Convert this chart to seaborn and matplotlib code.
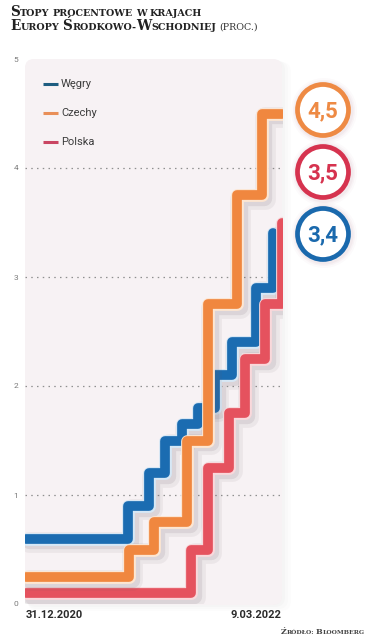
"""Stopy procentowe w krajach Europy Środkowo-Wschodniej (proc.)."""

import matplotlib

matplotlib.use("Agg")
import matplotlib.patheffects as pe
import matplotlib.pyplot as plt
import pandas as pd
import seaborn as sns
from matplotlib.patches import Circle, FancyBboxPatch

KRAJE = ["Węgry", "Czechy", "Polska"]

DATY_WEGRY = ["2020-12-31", "2021-06-22", "2021-07-27", "2021-08-24", "2021-09-21",
              "2021-10-19", "2021-11-16", "2021-12-14", "2022-01-25", "2022-02-22"]
STOPY_WEGRY = [0.6, 0.9, 1.2, 1.5, 1.65, 1.8, 2.1, 2.4, 2.9, 3.4]

DATY_CZECHY = ["2020-12-31", "2021-06-23", "2021-08-05", "2021-09-30", "2021-11-04",
               "2021-12-23", "2022-02-03", "2022-03-09"]
STOPY_CZECHY = [0.25, 0.5, 0.75, 1.5, 2.75, 3.75, 4.5, 4.5]

DATY_POLSKA = ["2020-12-31", "2021-10-07", "2021-11-04", "2021-12-09", "2022-01-05",
               "2022-02-09", "2022-03-09"]
STOPY_POLSKA = [0.1, 0.5, 1.25, 1.75, 2.25, 2.75, 3.5]

ETYKIETY_X = ["31.12.2020", "9.03.2022"]
TYTUL = ["Stopy procentowe w krajach", "Europy Środkowo-Wschodniej"]
ZRODLO = "Źródło: Bloomberg"

KOLORY = {"Węgry": "#1b6cb1", "Czechy": "#f0873f", "Polska": "#e5525e"}
OBRYSY = {"Węgry": "#d6e8f6", "Czechy": "#fde6d2", "Polska": "#f9d8db"}
KOLORY_LEGENDY = {"Węgry": "#1e5d80", "Czechy": "#e98f58", "Polska": "#c94562"}
KOLORY_KOLEK = {"Węgry": "#1a69ad", "Czechy": "#ee8a44", "Polska": "#d6334f"}

WASKI = ["Roboto", "DejaVu Sans"]
SZERYF = ["DejaVu Serif"]

df = pd.concat(
    [
        pd.DataFrame({"data": pd.to_datetime(DATY_WEGRY), "stopa": STOPY_WEGRY, "kraj": "Węgry"}),
        pd.DataFrame({"data": pd.to_datetime(DATY_CZECHY), "stopa": STOPY_CZECHY, "kraj": "Czechy"}),
        pd.DataFrame({"data": pd.to_datetime(DATY_POLSKA), "stopa": STOPY_POLSKA, "kraj": "Polska"}),
    ],
    ignore_index=True,
)

sns.set_theme(style="white")
plt.rcParams["font.family"] = WASKI

fig = plt.figure(figsize=(3.77, 6.4), dpi=100)
fig.patch.set_facecolor("white")

# tło w pikselach
tlo = fig.add_axes([0, 0, 1, 1], zorder=0)
tlo.set_xlim(0, 377)
tlo.set_ylim(640, 0)
tlo.axis("off")
for i, a in enumerate([0.035, 0.03, 0.025, 0.02]):
    tlo.add_patch(FancyBboxPatch((25 + i, 59 + i), 257 + 2 * i, 546 + i,
                                 boxstyle="round,pad=0,rounding_size=10",
                                 fc="#8a8088", ec="none", alpha=a))
tlo.add_patch(FancyBboxPatch((25, 59), 257, 546, boxstyle="round,pad=0,rounding_size=9",
                             fc="#f7f2f4", ec="none"))

ax = fig.add_axes([25 / 377, 36 / 640, 258 / 377, 545 / 640], zorder=1)
ax.patch.set_alpha(0)
kolejnosc = ["Węgry", "Polska", "Czechy"]
sns.lineplot(data=df, x="data", y="stopa", hue="kraj", hue_order=kolejnosc, palette=KOLORY,
             drawstyle="steps-post", estimator=None, linewidth=7, legend=False, ax=ax,
             solid_capstyle="round", solid_joinstyle="round")
for linia, kraj in zip(ax.lines, kolejnosc):
    linia.set_path_effects([
        pe.SimpleLineShadow(offset=(2.5, -2.5), shadow_color="#6a5a65", alpha=0.08, linewidth=15),
        pe.SimpleLineShadow(offset=(2, -2), shadow_color="#6a5a65", alpha=0.12, linewidth=11),
        pe.Stroke(linewidth=9.2, foreground=OBRYSY[kraj]),
        pe.Normal(),
    ])

for v in [1, 2, 3, 4]:
    ax.axhline(v, color="#8f8f8f", lw=0.9, ls=(0, (1.2, 3.4)), zorder=0)

start = pd.Timestamp(DATY_WEGRY[0])
koniec = pd.Timestamp(DATY_POLSKA[-1])
ax.set_xlim(start - pd.Timedelta(days=1.5), koniec + pd.Timedelta(days=2))
ax.set_ylim(0, 5)
ax.set_yticks([0, 1, 2, 3, 4, 5])
ax.set_yticklabels(["0", "1", "2", "3", "4", "5"], fontsize=6, color="#7a7a7a")
ax.set_xticks([start, koniec])
ax.set_xticklabels(ETYKIETY_X, fontsize=8, color="#2a2a2a", fontweight="bold")
ax.get_xticklabels()[0].set_ha("left")
ax.get_xticklabels()[1].set_ha("right")
ax.tick_params(axis="y", length=0, pad=5)
ax.tick_params(axis="x", length=0, pad=4)
ax.set_xlabel("")
ax.set_ylabel("")
sns.despine(ax=ax, left=True, bottom=True)

# warstwa wierzchnia
wierzch = fig.add_axes([0, 0, 1, 1], zorder=2)
wierzch.set_xlim(0, 377)
wierzch.set_ylim(640, 0)
wierzch.axis("off")

# legenda
for i, kraj in enumerate(KRAJE):
    y = 84 + 29 * i
    wierzch.plot([43, 58], [y, y], color=KOLORY_LEGENDY[kraj], lw=2.2, solid_capstyle="butt")
    wierzch.text(61, y, kraj, fontsize=8, color="#3c3c3c", va="center", ha="left")

# kółka z ostatnimi wartościami
ostatnie = {"Węgry": STOPY_WEGRY[-1], "Czechy": STOPY_CZECHY[-1], "Polska": STOPY_POLSKA[-1]}
for i, kraj in enumerate(sorted(ostatnie, key=ostatnie.get, reverse=True)):
    cy = 110 + 62 * i
    for r, a in [(33, 0.03), (31, 0.05), (29.5, 0.07)]:
        wierzch.add_patch(Circle((324, cy + 1), r, fc="#b07a8a", ec="none", alpha=a))
    wierzch.add_patch(Circle((323, cy), 25.5, fc="white", ec=KOLORY_KOLEK[kraj], lw=3.4))
    wierzch.text(323, cy + 1, f"{ostatnie[kraj]:.1f}".replace(".", ","), fontsize=16,
                 fontweight="bold", color=KOLORY_KOLEK[kraj], ha="center", va="center")

renderer = fig.canvas.get_renderer()


def szerokosc(tekst, rozmiar, waga):
    t = wierzch.text(0, 0, tekst, fontsize=rozmiar, family=SZERYF, weight=waga)
    w = t.get_window_extent(renderer).width
    t.remove()
    return w


def kapitaliki(x, y, tekst, duzy, maly, waga, kolor):
    """Pisze tekst kapitalikami, zwraca listę obiektów i szerokość."""
    obiekty = []
    start_x = x
    spacja = szerokosc("X X", maly, waga) - szerokosc("XX", maly, waga)
    for slowo in tekst.split(" "):
        kawalki = []
        for znak in slowo:
            rozmiar = duzy if znak.isupper() else maly
            if kawalki and kawalki[-1][1] == rozmiar:
                kawalki[-1][0] += znak.upper()
            else:
                kawalki.append([znak.upper(), rozmiar])
        for kawalek, rozmiar in kawalki:
            t = wierzch.text(x, y, kawalek, fontsize=rozmiar, family=SZERYF, weight=waga,
                             color=kolor, ha="left", va="baseline")
            x += szerokosc(kawalek + "I", rozmiar, waga) - szerokosc("I", rozmiar, waga)
            obiekty.append(t)
        x += spacja
    return obiekty, x - spacja - start_x


kapitaliki(10, 16, TYTUL[0], 9.8, 6.8, "bold", "#222222")
_, szer = kapitaliki(10, 30, TYTUL[1], 9.8, 6.8, "bold", "#222222")
kapitaliki(10 + szer + 3, 30, "(proc.)", 9.0, 6.8, "normal", "#333333")

obiekty, szer = kapitaliki(0, 634, ZRODLO, 5.8, 4.4, "bold", "#444444")
for t in obiekty:
    t.set_x(t.get_position()[0] + 365 - szer)

fig.savefig("out.png", dpi=100)
